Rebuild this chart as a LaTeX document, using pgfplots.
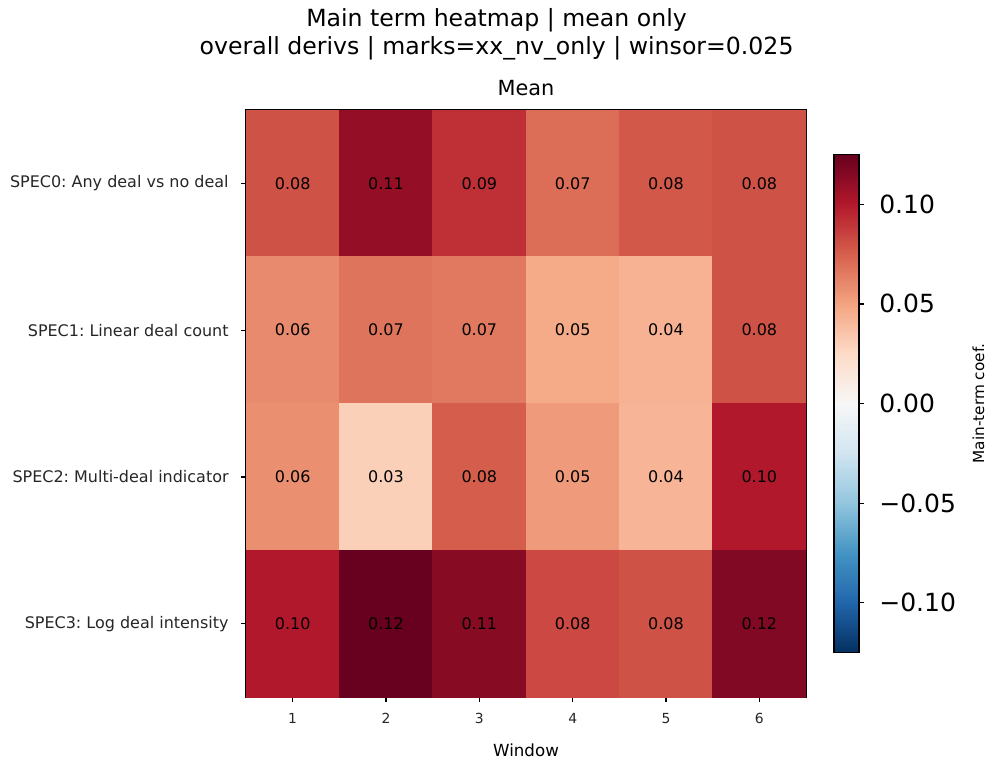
\documentclass[border=0pt]{standalone}
\usepackage{fontspec}
\setmainfont{DejaVu Sans}
\usepackage{pgfplots}
\usepackage{pgfplotstable}
\pgfplotsset{compat=1.18}
\frenchspacing

% Main-term coefficients: x = window, y = specification row
\pgfplotstableread{
x y v
1 0 0.080
2 0 0.110
3 0 0.092
4 0 0.070
5 0 0.078
6 0 0.080
1 1 0.060
2 1 0.068
3 1 0.066
4 1 0.048
5 1 0.044
6 1 0.080
1 2 0.058
2 2 0.030
3 2 0.076
4 2 0.054
5 2 0.043
6 2 0.100
1 3 0.100
2 3 0.1249
3 3 0.114
4 3 0.083
5 3 0.080
6 3 0.116
}\cells

\pgfplotsset{
  colormap={rdbur}{
    rgb255=(5,48,97) rgb255=(33,102,172) rgb255=(67,147,195)
    rgb255=(146,197,222) rgb255=(209,229,240) rgb255=(247,247,247)
    rgb255=(253,219,199) rgb255=(244,165,130) rgb255=(214,96,77)
    rgb255=(178,24,43) rgb255=(103,0,31)}
}

\begin{document}
\begin{tikzpicture}
\useasboundingbox (-177.1pt,-50.4pt) rectangle (537.8pt,501.8pt);
\begin{axis}[
  at={(0pt,0pt)}, anchor=south west,
  scale only axis, width=403.2pt, height=422.6pt,
  xmin=0.5, xmax=6.5, ymin=-0.5, ymax=3.5, y dir=reverse,
  enlargelimits=false,
  axis line style={black, line width=1pt},
  xtick={1,2,3,4,5,6}, ytick={0,1,2,3},
  yticklabels={SPEC0: Any deal vs no deal, SPEC1: Linear deal count,
               SPEC2: Multi-deal indicator, SPEC3: Log deal intensity},
  xtick pos=bottom, ytick pos=left,
  tick align=outside, major tick length=3.5pt,
  tick style={black, line width=0.9pt},
  /pgf/number format/assume math mode=true,
  xticklabel style={font=\fontsize{10}{12}\selectfont, text=black!85, yshift=-4.5pt},
  yticklabel style={font=\fontsize{11.5}{13}\selectfont, text=black!85, xshift=-5.5pt},
  xlabel={Window},
  xlabel style={font=\fontsize{12}{14}\selectfont, yshift=-7.5pt},
  colormap name=rdbur,
  point meta min=-0.125, point meta max=0.125,
  colorbar sampled,
  colorbar style={
    samples=251,
    scale only axis,
    width=18pt, height=358.6pt,
    at={(parent axis.east)}, anchor=west, xshift=11.7pt,
    axis line style={black, line width=1pt},
    ytick={-0.1,-0.05,0,0.05,0.1},
    yticklabels={−0.10,−0.05,0.00,0.05,0.10},
    ytick pos=right, yticklabel pos=right,
    tick align=outside, major tick length=3.5pt,
    tick style={black, line width=0.9pt},
    yticklabel style={font=\fontsize{18}{21}\selectfont, xshift=7.5pt},
    ylabel={Main-term coef.},
    ylabel shift=5pt,
    ylabel style={font=\fontsize{11}{13}\selectfont},
  },
]
\addplot[matrix plot*, mesh/cols=6, mesh/rows=4, point meta=explicit]
  table[x=x, y=y, meta=v] {\cells};
\addplot[draw=none, mark=none, point meta=explicit,
  nodes near coords={\pgfmathprintnumber[fixed,fixed zerofill,precision=2,assume math mode=true]{\pgfplotspointmeta}},
  nodes near coords align=center,
  every node near coord/.append style={font=\fontsize{11.5}{13}\selectfont, text=black, anchor=center}]
  table[x=x, y=y, meta=v] {\cells};
\end{axis}
\node[font=\fontsize{17}{20}\selectfont] at (180.4pt,487.4pt) {Main term heatmap | mean only};
\node[font=\fontsize{17}{20}\selectfont] at (180.4pt,467.3pt) {overall derivs | marks=xx\_nv\_only | winsor=0.025};
\node[font=\fontsize{15}{18}\selectfont] at (201.6pt,438.5pt) {Mean};
\end{tikzpicture}
\end{document}
